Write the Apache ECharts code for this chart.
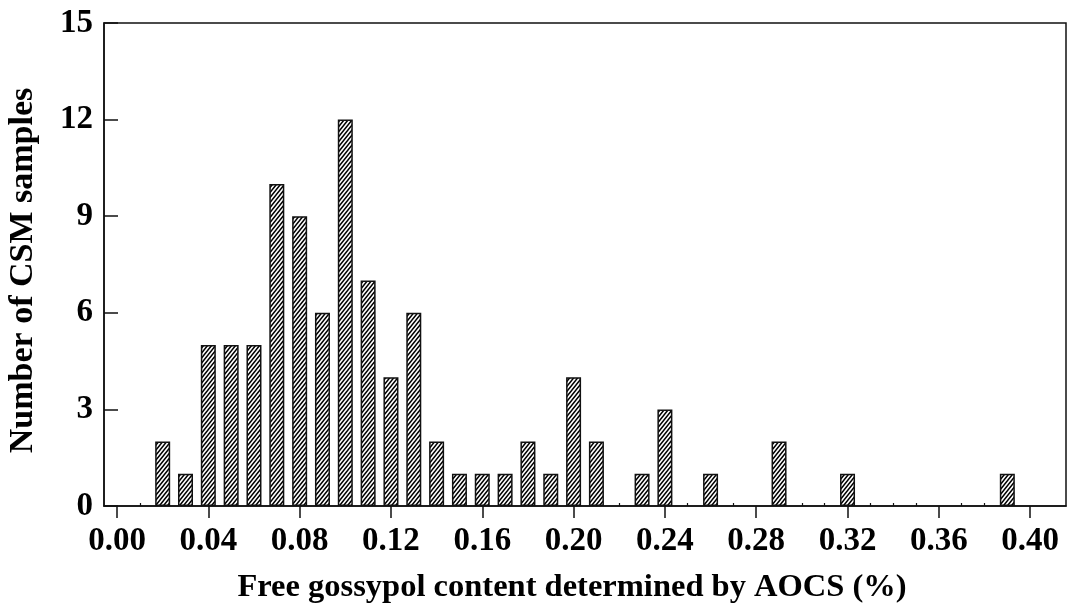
<!DOCTYPE html>
<html>
<head>
<meta charset="utf-8">
<script src="https://cdn.jsdelivr.net/npm/echarts@6/dist/echarts.min.js"></script>
<style>html,body{margin:0;padding:0;background:#fff;}#c{width:1069px;height:604px;}</style>
</head>
<body>
<div id="c"></div>
<script>
var binCenters = [0.02,0.03,0.04,0.05,0.06,0.07,0.08,0.09,0.10,0.11,0.12,0.13,0.14,0.15,0.16,0.17,0.18,0.19,0.20,0.21,0.23,0.24,0.26,0.29,0.32,0.39];
var sampleCounts = [2,1,5,5,5,10,9,6,12,7,4,6,2,1,1,1,2,1,4,2,1,3,1,2,1,1];
var xTickValues = [0.00,0.04,0.08,0.12,0.16,0.20,0.24,0.28,0.32,0.36,0.40];
var xMinorValues = [0.01,0.02,0.03,0.05,0.06,0.07,0.09,0.10,0.11,0.13,0.14,0.15,0.17,0.18,0.19,0.21,0.22,0.23,0.25,0.26,0.27,0.29,0.30,0.31,0.33,0.34,0.35,0.37,0.38,0.39];
var xTitle = 'Free gossypol content determined by AOCS (%)';
var yTitle = 'Number of CSM samples';

var tw = 4, th = 5;
var tile = document.createElement('canvas');
tile.width = tw; tile.height = th;
var g = tile.getContext('2d');
g.fillStyle = '#fff'; g.fillRect(0,0,tw,th);
g.strokeStyle = '#000'; g.lineWidth = 1.5;
g.beginPath();
[-tw,0,tw].forEach(function(dx){
  g.moveTo(dx - 1, th + th/tw);
  g.lineTo(dx + tw + 1, -th/tw);
});
g.stroke();

var font = '"Liberation Serif","Times New Roman",serif';
var data = binCenters.map(function(x,i){return [x, sampleCounts[i]];});
var chart = echarts.init(document.getElementById('c'), null, {renderer:'canvas'});
chart.setOption({
  animation:false,
  backgroundColor:'#fff',
  grid:{left:104,right:3,top:23,bottom:98,outerBoundsMode:'none',containLabel:false,show:true,borderColor:'#111',borderWidth:1.5,backgroundColor:'transparent'},
  xAxis:[{
    type:'value', min:-0.0057, max:0.4157,
    name:xTitle, nameLocation:'middle', nameGap:65,
    nameTextStyle:{fontFamily:font,fontWeight:'bold',fontSize:32.5,color:'#000',padding:[0,26,0,0]},
    axisLine:{show:true,onZero:false,lineStyle:{color:'#111',width:1.5}},
    axisTick:{show:true,inside:false,length:12,lineStyle:{color:'#111',width:1.5},customValues:xTickValues},
    axisLabel:{show:true,margin:19,fontFamily:font,fontWeight:'bold',fontSize:33,color:'#000',customValues:xTickValues,
      formatter:function(v){return v.toFixed(2);}},
    splitLine:{show:false}
  },{
    type:'value', min:-0.0057, max:0.4157, position:'bottom',
    axisLine:{show:false,onZero:false},
    axisTick:{show:true,inside:true,length:3,lineStyle:{color:'#111',width:1.2},customValues:xMinorValues},
    axisLabel:{show:false},
    splitLine:{show:false}
  }],
  yAxis:{
    type:'value', min:0, max:15, interval:3,
    name:yTitle, nameLocation:'middle', nameGap:64,
    nameTextStyle:{fontFamily:font,fontWeight:'bold',fontSize:34,color:'#000',padding:[0,12,0,0]},
    axisLine:{show:true,onZero:false,lineStyle:{color:'#111',width:1.5}},
    axisTick:{show:true,inside:true,length:14,lineStyle:{color:'#111',width:1.5}},
    axisLabel:{margin:11,fontFamily:font,fontWeight:'bold',fontSize:33,color:'#000'},
    splitLine:{show:false}
  },
  series:[{
    type:'bar', xAxisIndex:0, data:data, barWidth:15,
    itemStyle:{color:{image:tile,repeat:'repeat'},borderColor:'#111',borderWidth:1.5}
  }]
});
</script>
</body>
</html>
